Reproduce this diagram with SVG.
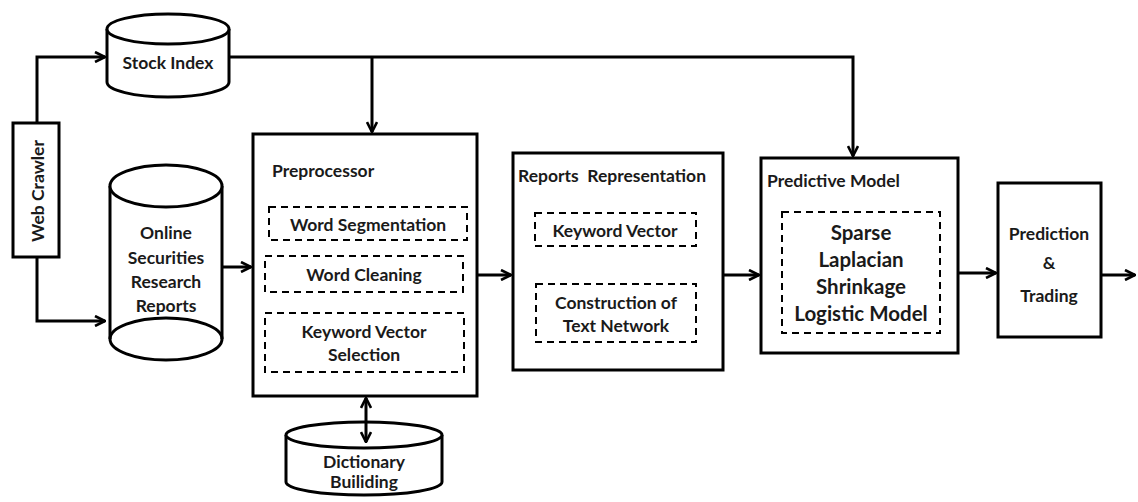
<svg xmlns="http://www.w3.org/2000/svg" width="1138" height="502" viewBox="0 0 1138 502">
<defs>
<marker id="arr" viewBox="0 0 12 12" refX="11" refY="6" markerWidth="12" markerHeight="12" markerUnits="userSpaceOnUse" orient="auto-start-reverse">
<polyline points="1,1 11,6 1,11" fill="none" stroke="#000" stroke-width="2.6"/>
</marker>
</defs>
<style>
.b{fill:#fff;stroke:#000;stroke-width:3}
.d{fill:none;stroke:#000;stroke-width:2;stroke-dasharray:7,5}
.c{fill:none;stroke:#000;stroke-width:3}
text{font-family:Lato,"Open Sans","Liberation Sans",sans-serif;font-weight:bold;fill:#1a1a1a;font-size:17.5px;text-anchor:middle;dominant-baseline:central;white-space:pre}
.l{text-anchor:start}
.big{font-size:20.5px}
</style>
<rect width="1138" height="502" fill="#fff"/>
<g id="web-crawler">
<rect class="b" x="13" y="123" width="46" height="134"/>
<text transform="translate(37,191) rotate(-90)">Web Crawler</text>
</g>
<g id="stock-index">
<path class="b" d="M107,29 L107,82 A61,15 0 0 0 229,82 L229,29"/>
<ellipse class="b" cx="168" cy="29" rx="61" ry="15"/>
<text x="168" y="62">Stock Index</text>
</g>
<g id="online-reports">
<path class="b" d="M110,186 L110,339 A56,21 0 0 0 222,339 L222,186"/>
<ellipse class="b" cx="166" cy="186" rx="56" ry="21"/>
<path class="c" d="M110,339 A56,21 0 0 1 222,339"/>
<text x="166" y="232">Online</text>
<text x="166" y="257">Securities</text>
<text x="166" y="281">Research</text>
<text x="166" y="305">Reports</text>
</g>
<g id="preprocessor">
<rect class="b" x="253" y="134" width="224" height="262"/>
<text class="l" x="272" y="170">Preprocessor</text>
<rect class="d" x="269" y="207" width="198" height="33"/>
<text x="368" y="224">Word Segmentation</text>
<rect class="d" x="265" y="256" width="198" height="36"/>
<text x="364" y="274">Word Cleaning</text>
<rect class="d" x="265" y="313" width="199" height="59"/>
<text x="364" y="331">Keyword Vector</text>
<text x="364" y="354">Selection</text>
</g>
<g id="reports-representation">
<rect class="b" x="513" y="153" width="210" height="217"/>
<text class="l" x="518" y="175" xml:space="preserve">Reports  Representation</text>
<rect class="d" x="535" y="213" width="161" height="33"/>
<text x="615" y="230">Keyword Vector</text>
<rect class="d" x="536" y="284" width="160" height="58"/>
<text x="616" y="302">Construction of</text>
<text x="616" y="325">Text Network</text>
</g>
<g id="predictive-model">
<rect class="b" x="761" y="158" width="197" height="195"/>
<text class="l" x="767" y="180">Predictive Model</text>
<rect class="d" x="782" y="212" width="158" height="121"/>
<text class="big" x="861" y="232">Sparse</text>
<text class="big" x="861" y="259">Laplacian</text>
<text class="big" x="861" y="286">Shrinkage</text>
<text class="big" x="861" y="313">Logistic Model</text>
</g>
<g id="prediction-trading">
<rect class="b" x="998" y="183" width="103" height="154"/>
<text x="1049" y="233">Prediction</text>
<text x="1049" y="262">&amp;</text>
<text x="1049" y="295">Trading</text>
</g>
<g id="dictionary">
<path class="b" d="M286,435 L286,482 A78,13 0 0 0 442,482 L442,435"/>
<ellipse class="b" cx="364" cy="435" rx="78" ry="13"/>
<text x="364" y="461">Dictionary</text>
<text x="364" y="481">Builiding</text>
</g>
<g id="connectors">
<polyline class="c" points="37,123 37,57 105,57" marker-end="url(#arr)"/>
<polyline class="c" points="37,257 37,321 105,321" marker-end="url(#arr)"/>
<polyline class="c" points="229,57 853,57 853,156" marker-end="url(#arr)"/>
<line class="c" x1="372" y1="57" x2="372" y2="132" marker-end="url(#arr)"/>
<line class="c" x1="222" y1="267" x2="251" y2="267" marker-end="url(#arr)"/>
<line class="c" x1="477" y1="275" x2="511" y2="275" marker-end="url(#arr)"/>
<line class="c" x1="723" y1="275" x2="759" y2="275" marker-end="url(#arr)"/>
<line class="c" x1="958" y1="273" x2="996" y2="273" marker-end="url(#arr)"/>
<line class="c" x1="1101" y1="275" x2="1135" y2="275" marker-end="url(#arr)"/>
<line class="c" x1="366" y1="398" x2="366" y2="442" marker-start="url(#arr)" marker-end="url(#arr)"/>
</g>
</svg>
